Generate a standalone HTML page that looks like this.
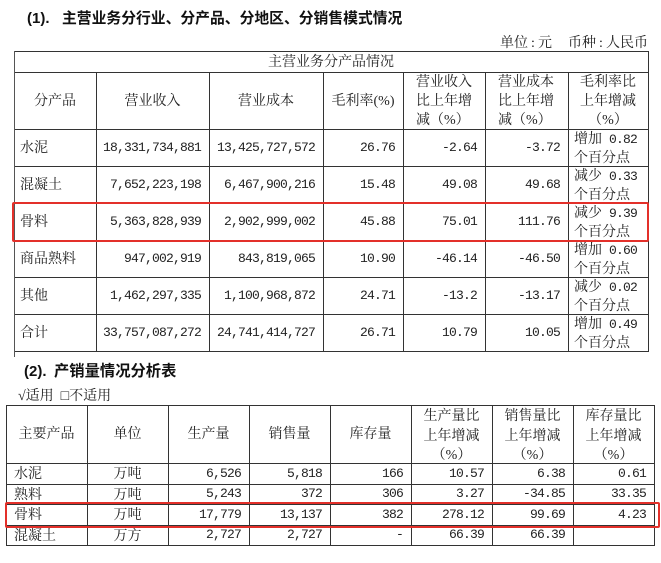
<!DOCTYPE html>
<html>
<head>
<meta charset="utf-8">
<style>
html,body{margin:0;padding:0;}
body{width:661px;height:563px;background:#fff;position:relative;overflow:hidden;}
.h{position:absolute;height:1px;background:#333;}
.v{position:absolute;width:1px;background:#333;}
.c{position:absolute;font-size:14px;font-family:"Liberation Serif","Noto Serif CJK SC",serif;color:#222;white-space:nowrap;line-height:20px;height:20px;}
.j{margin-top:1px;}
.cc{text-align:center;width:120px;}
.r{text-align:right;}
.n{font-family:"Liberation Mono",monospace;font-size:13px;letter-spacing:-0.8px;}
.m{position:absolute;font-size:14px;font-family:"Liberation Serif","Noto Serif CJK SC",serif;color:#222;white-space:nowrap;line-height:19px;}
.t{position:absolute;font-family:"Liberation Sans","Noto Sans CJK SC",sans-serif;font-weight:bold;color:#111;white-space:nowrap;line-height:22px;height:22px;}
.red{position:absolute;border:2.5px solid #e3302a;border-radius:2px;box-sizing:border-box;}
.k{display:inline-block;width:10px;text-align:center;font-family:"Liberation Serif",serif;}
.sp{display:inline-block;width:7px;}
</style>
</head>
<body>

<!-- Titles -->
<div class="t" style="left:27px;top:8px;font-size:15px;">(1).</div>
<div class="t" style="left:62px;top:8px;font-size:14.8px;">主营业务分行业、分产品、分地区、分销售模式情况</div>
<div class="c r j" style="right:13px;top:33px;">单位<span class="k">:</span>元<span style="display:inline-block;width:16px"></span>币种<span class="k">:</span>人民币</div>

<!-- Table 1 lines -->
<div class="h" style="left:14px;width:635px;top:51px;"></div>
<div class="h" style="left:14px;width:635px;top:72px;"></div>
<div class="h" style="left:14px;width:635px;top:129px;"></div>
<div class="h" style="left:14px;width:635px;top:166px;"></div>
<div class="h" style="left:14px;width:635px;top:203px;"></div>
<div class="h" style="left:14px;width:635px;top:240px;"></div>
<div class="h" style="left:14px;width:635px;top:277px;"></div>
<div class="h" style="left:14px;width:635px;top:314px;"></div>
<div class="h" style="left:14px;width:635px;top:351px;"></div>
<div class="v" style="left:14px;top:51px;height:306px;background:#555;"></div>
<div class="v" style="left:648px;top:51px;height:301px;"></div>
<div class="v" style="left:96px;top:72px;height:280px;"></div>
<div class="v" style="left:209px;top:72px;height:280px;"></div>
<div class="v" style="left:323px;top:72px;height:280px;"></div>
<div class="v" style="left:403px;top:72px;height:280px;"></div>
<div class="v" style="left:485px;top:72px;height:280px;"></div>
<div class="v" style="left:568px;top:72px;height:280px;"></div>

<!-- Table 1 header -->
<div class="c j" style="left:231px;width:200px;text-align:center;top:51.5px;">主营业务分产品情况</div>
<div class="c cc j" style="left:-5px;top:90.5px;">分产品</div>
<div class="c cc j" style="left:92.5px;top:90.5px;">营业收入</div>
<div class="c cc j" style="left:206px;top:90.5px;">营业成本</div>
<div class="c cc j" style="left:303px;top:90.5px;">毛利率(%)</div>
<div class="m" style="left:416px;top:72.5px;width:60px;">营业收入<br>比上年增<br>减（%）</div>
<div class="m" style="left:498px;top:72.5px;width:60px;">营业成本<br>比上年增<br>减（%）</div>
<div class="m" style="left:568px;top:72.5px;width:80px;text-align:center;">毛利率比<br>上年增减<br>（%）</div>

<!-- Table 1 rows -->
<div class="c j" style="left:20px;top:137.5px;">水泥</div>
<div class="c r n" style="right:460px;top:137.5px;">18,331,734,881</div>
<div class="c r n" style="right:346px;top:137.5px;">13,425,727,572</div>
<div class="c r n" style="right:266px;top:137.5px;">26.76</div>
<div class="c r n" style="right:184px;top:137.5px;">-2.64</div>
<div class="c r n" style="right:101px;top:137.5px;">-3.72</div>
<div class="m" style="left:574px;top:129.5px;">增加<span class="sp"></span><span class="n">0.82</span><br>个百分点</div>

<div class="c j" style="left:20px;top:174.5px;">混凝土</div>
<div class="c r n" style="right:460px;top:174.5px;">7,652,223,198</div>
<div class="c r n" style="right:346px;top:174.5px;">6,467,900,216</div>
<div class="c r n" style="right:266px;top:174.5px;">15.48</div>
<div class="c r n" style="right:184px;top:174.5px;">49.08</div>
<div class="c r n" style="right:101px;top:174.5px;">49.68</div>
<div class="m" style="left:574px;top:166.5px;">减少<span class="sp"></span><span class="n">0.33</span><br>个百分点</div>

<div class="c j" style="left:20px;top:211.5px;">骨料</div>
<div class="c r n" style="right:460px;top:211.5px;">5,363,828,939</div>
<div class="c r n" style="right:346px;top:211.5px;">2,902,999,002</div>
<div class="c r n" style="right:266px;top:211.5px;">45.88</div>
<div class="c r n" style="right:184px;top:211.5px;">75.01</div>
<div class="c r n" style="right:101px;top:211.5px;">111.76</div>
<div class="m" style="left:574px;top:203.5px;">减少<span class="sp"></span><span class="n">9.39</span><br>个百分点</div>

<div class="c j" style="left:20px;top:248.5px;">商品熟料</div>
<div class="c r n" style="right:460px;top:248.5px;">947,002,919</div>
<div class="c r n" style="right:346px;top:248.5px;">843,819,065</div>
<div class="c r n" style="right:266px;top:248.5px;">10.90</div>
<div class="c r n" style="right:184px;top:248.5px;">-46.14</div>
<div class="c r n" style="right:101px;top:248.5px;">-46.50</div>
<div class="m" style="left:574px;top:240.5px;">增加<span class="sp"></span><span class="n">0.60</span><br>个百分点</div>

<div class="c j" style="left:20px;top:285.5px;">其他</div>
<div class="c r n" style="right:460px;top:285.5px;">1,462,297,335</div>
<div class="c r n" style="right:346px;top:285.5px;">1,100,968,872</div>
<div class="c r n" style="right:266px;top:285.5px;">24.71</div>
<div class="c r n" style="right:184px;top:285.5px;">-13.2</div>
<div class="c r n" style="right:101px;top:285.5px;">-13.17</div>
<div class="m" style="left:574px;top:277.5px;">减少<span class="sp"></span><span class="n">0.02</span><br>个百分点</div>

<div class="c j" style="left:20px;top:322.5px;">合计</div>
<div class="c r n" style="right:460px;top:322.5px;">33,757,087,272</div>
<div class="c r n" style="right:346px;top:322.5px;">24,741,414,727</div>
<div class="c r n" style="right:266px;top:322.5px;">26.71</div>
<div class="c r n" style="right:184px;top:322.5px;">10.79</div>
<div class="c r n" style="right:101px;top:322.5px;">10.05</div>
<div class="m" style="left:574px;top:314.5px;">增加<span class="sp"></span><span class="n">0.49</span><br>个百分点</div>

<!-- Red box 1 -->
<div class="red" style="left:12px;top:202px;width:637px;height:40px;"></div>

<!-- Section 2 titles -->
<div class="t" style="left:24px;top:361px;font-size:15px;">(2).</div>
<div class="t" style="left:54px;top:361px;font-size:15.3px;">产销量情况分析表</div>
<div class="c j" style="left:18px;top:386px;">√适用&nbsp;&nbsp;□不适用</div>

<!-- Table 2 lines -->
<div class="h" style="left:6px;width:649px;top:405px;"></div>
<div class="h" style="left:6px;width:649px;top:463px;"></div>
<div class="h" style="left:6px;width:649px;top:484px;"></div>
<div class="h" style="left:6px;width:649px;top:504px;"></div>
<div class="h" style="left:6px;width:649px;top:525px;"></div>
<div class="h" style="left:6px;width:649px;top:545px;"></div>
<div class="v" style="left:6px;top:405px;height:141px;"></div>
<div class="v" style="left:87px;top:405px;height:141px;"></div>
<div class="v" style="left:168px;top:405px;height:141px;"></div>
<div class="v" style="left:249px;top:405px;height:141px;"></div>
<div class="v" style="left:330px;top:405px;height:141px;"></div>
<div class="v" style="left:411px;top:405px;height:141px;"></div>
<div class="v" style="left:492px;top:405px;height:141px;"></div>
<div class="v" style="left:573px;top:405px;height:141px;"></div>
<div class="v" style="left:654px;top:405px;height:141px;"></div>

<!-- Table 2 header -->
<div class="c cc j" style="left:-13.5px;top:424px;">主要产品</div>
<div class="c cc j" style="left:67.5px;top:424px;">单位</div>
<div class="c cc j" style="left:148.5px;top:424px;">生产量</div>
<div class="c cc j" style="left:229.5px;top:424px;">销售量</div>
<div class="c cc j" style="left:310.5px;top:424px;">库存量</div>
<div class="m" style="left:411px;top:407px;width:81px;text-align:center;line-height:19.5px;">生产量比<br>上年增减<br>（%）</div>
<div class="m" style="left:492px;top:407px;width:81px;text-align:center;line-height:19.5px;">销售量比<br>上年增减<br>（%）</div>
<div class="m" style="left:573px;top:407px;width:81px;text-align:center;line-height:19.5px;">库存量比<br>上年增减<br>（%）</div>

<!-- Table 2 rows -->
<div class="c j" style="left:14px;top:464px;">水泥</div>
<div class="c cc j" style="left:67.5px;top:464px;">万吨</div>
<div class="c r n" style="right:420px;top:463.5px;">6,526</div>
<div class="c r n" style="right:339px;top:463.5px;">5,818</div>
<div class="c r n" style="right:258px;top:463.5px;">166</div>
<div class="c r n" style="right:177px;top:463.5px;">10.57</div>
<div class="c r n" style="right:96px;top:463.5px;">6.38</div>
<div class="c r n" style="right:15px;top:463.5px;">0.61</div>

<div class="c j" style="left:14px;top:484.5px;">熟料</div>
<div class="c cc j" style="left:67.5px;top:484.5px;">万吨</div>
<div class="c r n" style="right:420px;top:484px;">5,243</div>
<div class="c r n" style="right:339px;top:484px;">372</div>
<div class="c r n" style="right:258px;top:484px;">306</div>
<div class="c r n" style="right:177px;top:484px;">3.27</div>
<div class="c r n" style="right:96px;top:484px;">-34.85</div>
<div class="c r n" style="right:15px;top:484px;">33.35</div>

<div class="c j" style="left:14px;top:505px;">骨料</div>
<div class="c cc j" style="left:67.5px;top:505px;">万吨</div>
<div class="c r n" style="right:420px;top:504.5px;">17,779</div>
<div class="c r n" style="right:339px;top:504.5px;">13,137</div>
<div class="c r n" style="right:258px;top:504.5px;">382</div>
<div class="c r n" style="right:177px;top:504.5px;">278.12</div>
<div class="c r n" style="right:96px;top:504.5px;">99.69</div>
<div class="c r n" style="right:15px;top:504.5px;">4.23</div>

<div class="c j" style="left:14px;top:525.5px;">混凝土</div>
<div class="c cc j" style="left:67.5px;top:525.5px;">万方</div>
<div class="c r n" style="right:420px;top:525px;">2,727</div>
<div class="c r n" style="right:339px;top:525px;">2,727</div>
<div class="c r n" style="right:258px;top:525px;">-</div>
<div class="c r n" style="right:177px;top:525px;">66.39</div>
<div class="c r n" style="right:96px;top:525px;">66.39</div>

<!-- Red box 2 -->
<div class="red" style="left:5px;top:502px;width:655px;height:26px;"></div>

</body>
</html>
